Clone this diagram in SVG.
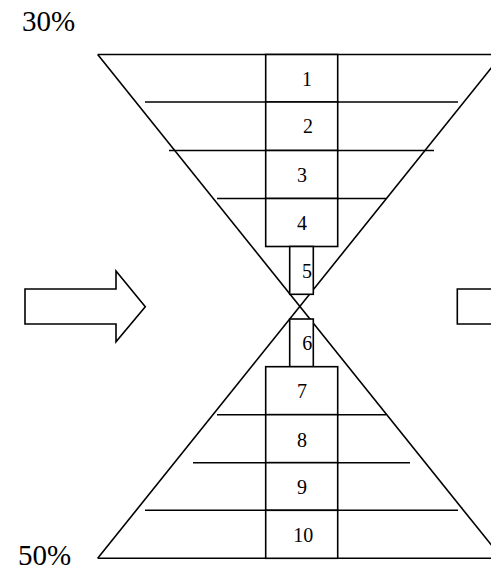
<svg xmlns="http://www.w3.org/2000/svg" width="491" height="572" viewBox="0 0 491 572">
<style>
.s{fill:none;stroke:#000;stroke-width:1.6}
.b{fill:#fff;stroke:#000;stroke-width:1.6}
.n{font-family:"Liberation Serif","Times New Roman",serif;font-size:20px;fill:#000;text-anchor:middle}
.p{font-family:"Liberation Serif","Times New Roman",serif;font-size:29px;fill:#000}
</style>
<rect width="491" height="572" fill="#fff"/>
<g id="hourglass">
<line class="s" x1="97.7" y1="54.5" x2="502" y2="558.3"/>
<line class="s" x1="502" y1="54.5" x2="97.7" y2="558.3"/>
<line class="s" x1="97.7" y1="54.5" x2="502" y2="54.5"/>
<line class="s" x1="97.7" y1="558.3" x2="502" y2="558.3"/>
<line class="s" x1="145" y1="102" x2="458" y2="102"/>
<line class="s" x1="169" y1="150.5" x2="434" y2="150.5"/>
<line class="s" x1="217" y1="198.5" x2="386" y2="198.5"/>
<line class="s" x1="217" y1="414.7" x2="386" y2="414.7"/>
<line class="s" x1="193" y1="462.7" x2="410" y2="462.7"/>
<line class="s" x1="145" y1="510.3" x2="458" y2="510.3"/>
</g>
<g id="connectors"></g>
<g id="box1"><rect class="b" x="265.7" y="54.5" width="72" height="47.5"/><text class="n" x="307" y="86">1</text></g>
<g id="box2"><rect class="b" x="265.7" y="102" width="72" height="48.5"/><text class="n" x="308" y="132.7">2</text></g>
<g id="box3"><rect class="b" x="265.7" y="150.5" width="72" height="48"/><text class="n" x="302" y="182">3</text></g>
<g id="box4"><rect class="b" x="265.7" y="198.5" width="72" height="48"/><text class="n" x="302" y="230">4</text></g>
<g id="box5"><rect class="b" x="289.7" y="246.5" width="23.6" height="47.8"/><text class="n" x="307" y="278.3">5</text></g>
<g id="box6"><rect class="b" x="289.7" y="319" width="23.6" height="47.7"/><text class="n" x="307.3" y="350">6</text></g>
<g id="box7"><rect class="b" x="265.7" y="366.7" width="72" height="48"/><text class="n" x="302" y="398.3">7</text></g>
<g id="box8"><rect class="b" x="265.7" y="414.7" width="72" height="48"/><text class="n" x="302" y="446.7">8</text></g>
<g id="box9"><rect class="b" x="265.7" y="462.7" width="72" height="47.6"/><text class="n" x="302" y="494.3">9</text></g>
<g id="box10"><rect class="b" x="265.7" y="510.3" width="72" height="48"/><text class="n" x="303.3" y="541.7">10</text></g>
<g id="arrow-left"><polygon class="b" points="25,289 116,289 116,271 145.3,306.7 116,341.7 116,324 25,324"/></g>
<g id="arrow-right"><polygon class="b" points="457.3,289 548.3,289 548.3,271 577.6,306.7 548.3,341.7 548.3,324 457.3,324"/></g>
<g id="label-30"><text class="p" x="22" y="31">30%</text></g>
<g id="label-50"><text class="p" x="18" y="565">50%</text></g>
</svg>
